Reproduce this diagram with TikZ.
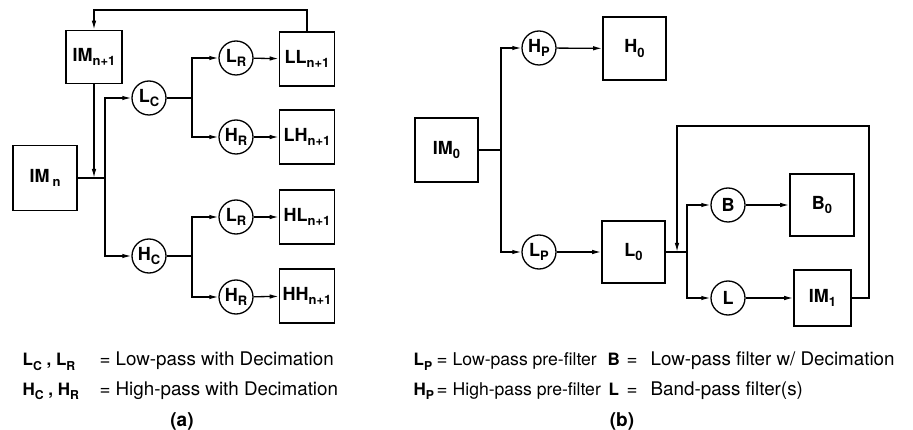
\documentclass[tikz,border=0pt]{standalone}
\usepackage{fontspec}
\setmainfont{TeX Gyre Heros}
\usetikzlibrary{arrows.meta}
\newcommand{\dn}[1]{\raisebox{-0.5ex}{\scalebox{0.72}{#1}}}

\begin{document}
\begin{tikzpicture}[x=1pt,y=-1pt,line width=1.3pt,
  blk/.style={draw,line width=1.6pt,minimum width=55pt,minimum height=54pt,inner sep=0pt,font=\fontsize{18}{18}\selectfont\bfseries},
  flt/.style={draw,circle,line width=1.3pt,minimum size=34pt,inner sep=0pt,font=\fontsize{18}{18}\selectfont\bfseries},
  ar/.style={-{Latex[length=9pt,width=4.5pt]}},
  txt/.style={anchor=base west,inner sep=0pt,font=\fontsize{18.8}{19}\selectfont},
  sym/.style={anchor=base west,inner sep=0pt,font=\fontsize{17}{17}\selectfont\bfseries}]
\useasboundingbox (0,0) rectangle (913,430);

% (a)
\node[blk,minimum width=64pt,minimum height=65pt] (imn) at (45,178) {IM\,\dn{n}};
\node[blk,minimum width=56pt,minimum height=53pt] (imn1) at (94,57) {IM\dn{n+1}};
\node[flt] (lc) at (149,98) {L\dn{C}};
\node[flt] (hc) at (149,256) {H\dn{C}};
\node[flt] (lr1) at (236,58) {L\dn{R}};
\node[flt] (hr1) at (236,137) {H\dn{R}};
\node[flt] (lr2) at (236,217) {L\dn{R}};
\node[flt] (hr2) at (236,297) {H\dn{R}};
\node[blk] (ll) at (307,59) {LL\dn{n+1}};
\node[blk] (lh) at (307,137) {LH\dn{n+1}};
\node[blk] (hl) at (307,217) {HL\dn{n+1}};
\node[blk] (hh) at (307,296) {HH\dn{n+1}};
\coordinate (ja) at (105,178);
\coordinate (jb) at (192,98);
\coordinate (jc) at (192,256);
\coordinate (fb) at (200,10);

\draw (imn.east) -- (ja);
\draw[ar] (imn1) -- (imn1 |- ja);
\draw[ar] (ja) |- (lc);
\draw[ar] (ja) |- (hc);
\draw (lc) -- (jb);
\draw (hc) -- (jc);
\draw[ar] (jb) |- (lr1);
\draw[ar] (jb) |- (hr1);
\draw[ar] (jc) |- (lr2);
\draw[ar] (jc) |- (hr2);
\draw[ar] (lr1) -- (ll);
\draw[ar] (hr1) -- (lh);
\draw[ar] (lr2) -- (hl);
\draw[ar] (hr2) -- (hh);
\draw[ar] (ll) |- (fb) -| (imn1);

\node[sym] (ka1) at (22,366) {L\dn{C} , L\dn{R}};
\node[txt] (ea1) at (99,366) {=};
\node[txt] (da1) at (115,366) {Low-pass with Decimation};
\node[sym] (ka2) at (22,395) {H\dn{C} , H\dn{R}};
\node[txt] (ea2) at (99,395) {=};
\node[txt] (da2) at (115,395) {High-pass with Decimation};
\node[anchor=base,inner sep=0pt,font=\fontsize{19}{19}\selectfont\bfseries] (capa) at (182,426) {(a)};

% (b)
\node[blk,minimum width=63pt,minimum height=64pt] (im0) at (446.5,150) {IM\dn{0}};
\node[flt] (hp) at (539,48) {H\dn{P}};
\node[blk,minimum width=63pt,minimum height=63pt] (h0) at (634.5,48.5) {H\dn{0}};
\node[flt] (lp) at (539,252) {L\dn{P}};
\node[blk,minimum width=63pt,minimum height=62pt] (l0) at (633.5,252) {L\dn{0}};
\node[flt] (bf) at (728,205) {B};
\node[blk,minimum width=64pt,minimum height=62pt] (b0) at (822,205) {B\dn{0}};
\node[flt] (lf) at (728,298) {L};
\node[blk,minimum width=57pt,minimum height=56pt] (im1) at (822.5,298) {IM\dn{1}};
\coordinate (jd) at (501,150);
\coordinate (je) at (687,252);
\coordinate (fr) at (869,126);
\coordinate (fl) at (677,126);

\draw (im0) -- (jd);
\draw[ar] (jd) |- (hp);
\draw[ar] (jd) |- (lp);
\draw[ar] (hp) -- (h0);
\draw[ar] (lp) -- (l0);
\draw (l0) -- (je);
\draw[ar] (je) |- (bf);
\draw[ar] (je) |- (lf);
\draw[ar] (bf) -- (b0);
\draw[ar] (lf) -- (im1);
\draw[ar] (im1) -| (fr) -- (fl) -- (fl |- je);

\node[sym] (kb1) at (413,366) {L\dn{P}};
\node[txt] (eb1) at (436,366) {=};
\node[txt,font=\fontsize{17.6}{18}\selectfont] (db1) at (452,366) {Low-pass pre-filter};
\node[sym] (kb2) at (607,366) {B};
\node[txt] (eb2) at (626,366) {=};
\node[txt] (db2) at (650,366) {Low-pass filter w/ Decimation};
\node[sym] (kb3) at (413,395) {H\dn{P}};
\node[txt] (eb3) at (436,395) {=};
\node[txt,font=\fontsize{17.6}{18}\selectfont] (db3) at (452,395) {High-pass pre-filter};
\node[sym] (kb4) at (608,395) {L};
\node[txt] (eb4) at (626,395) {=};
\node[txt] (db4) at (650,395) {Band-pass filter(s)};
\node[anchor=base,inner sep=0pt,font=\fontsize{19}{19}\selectfont\bfseries] (capb) at (622,426) {(b)};
\end{tikzpicture}
\end{document}
